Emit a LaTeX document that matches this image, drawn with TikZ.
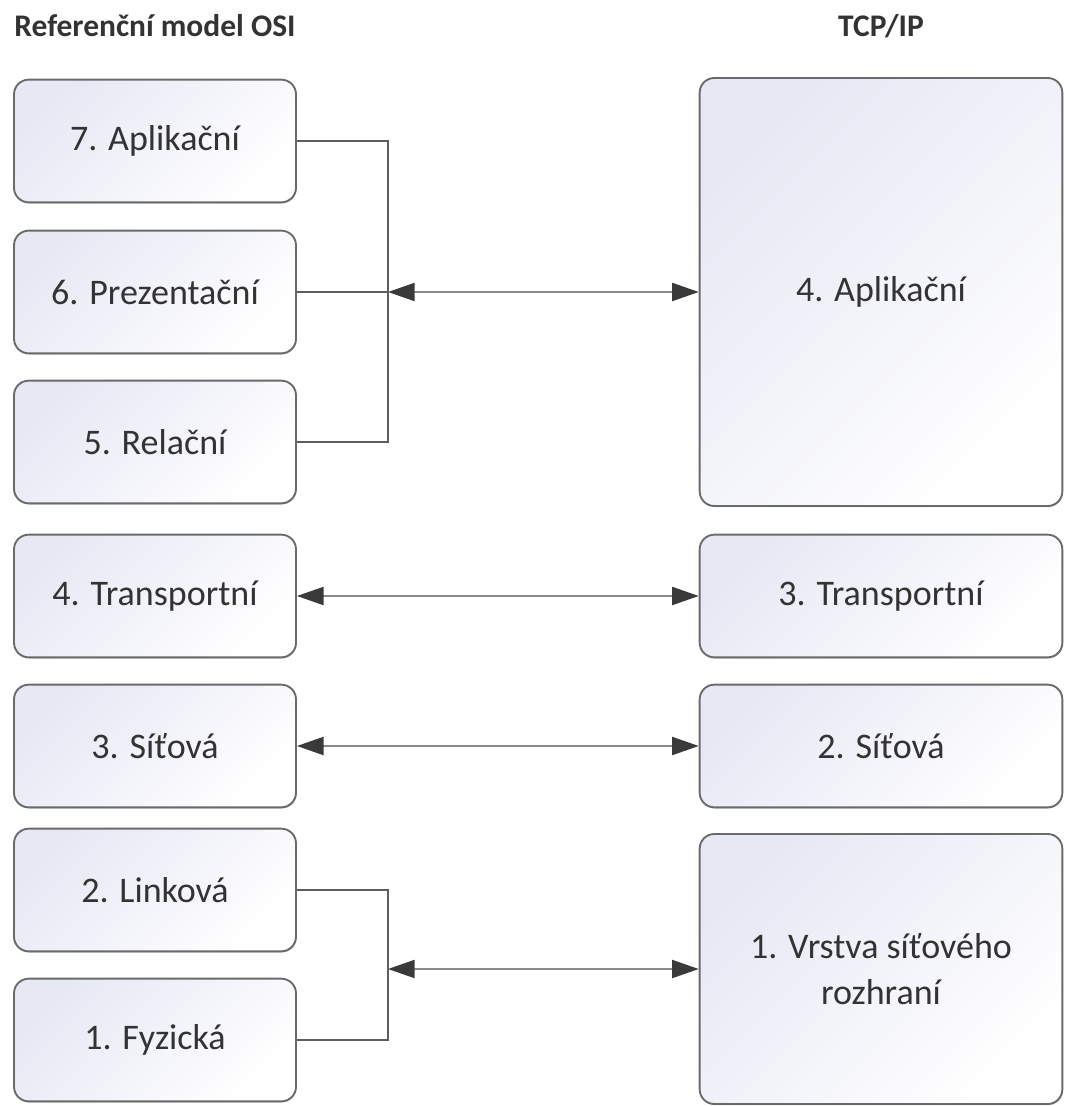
\documentclass[tikz,border=0pt]{standalone}
\usepackage{fontspec}
\setmainfont{Carlito}
\usepackage{tikz}
\usetikzlibrary{arrows.meta,shadows}

\definecolor{boxline}{HTML}{6A6A6A}
\definecolor{boxfill}{HTML}{E6E8F4}
\definecolor{txt}{HTML}{333333}
\definecolor{wire}{HTML}{5E5E5E}
\definecolor{arrowgray}{HTML}{8A8A8A}
\definecolor{tipgray}{HTML}{3A3A3A}

\begin{document}
\begin{tikzpicture}[x=0.75pt,y=-0.75pt,
    layer/.style={draw=boxline, line width=1.4pt, rounded corners=11pt,
        left color=boxfill, right color=white, shading angle=45,
        text=txt, font=\fontsize{27}{34}\selectfont, align=center,
        drop shadow={shadow xshift=0.4pt, shadow yshift=-0.9pt, opacity=0.35, fill=black!60}},
    osi/.style={layer, minimum width=211.5pt, minimum height=92pt},
    tcp/.style={layer, minimum width=272pt, minimum height=92pt},
    heading/.style={text=txt, font=\fontsize{23.6}{28}\selectfont\bfseries},
    bracket/.style={draw=wire, line width=1.4pt},
    biarrow/.style={draw=arrowgray, line width=1.6pt,
        {Triangle[length=20pt,width=13.5pt,color=tipgray]}-{Triangle[length=20pt,width=13.5pt,color=tipgray]}}]
        \useasboundingbox (0,0) rectangle (1064,1106);
        \node[heading] (hosi) at (155,26) {Referenční model OSI};
        \node[heading] (htcp) at (881,26) {TCP/IP};
        \node[osi] (l7) at (155,141) {7. Aplikační};
        \node[osi] (l6) at (155,292) {6. Prezentační};
        \node[osi] (l5) at (155,442) {5. Relační};
        \node[osi] (l4) at (155,596) {4. Transportní};
        \node[osi] (l3) at (155,746) {3. Síťová};
        \node[osi] (l2) at (155,890) {2. Linková};
        \node[osi] (l1) at (155,1040) {1. Fyzická};
        \node[tcp, minimum height=321pt] (t4) at (881,292) {4. Aplikační};
        \node[tcp] (t3) at (881,596) {3. Transportní};
        \node[tcp] (t2) at (881,746) {2. Síťová};
        \node[tcp, minimum height=202.5pt] (t1) at (881,969) {1. Vrstva síťového\\rozhraní};
        \coordinate (japp) at (388,292);
        \coordinate (jlink) at (388,969);
        \draw[bracket] (l7.east) -| (japp) |- (l5.east);
        \draw[bracket] (l6.east) -- (japp);
        \draw[bracket] (l2.east) -| (jlink) |- (l1.east);
        \draw[biarrow] (japp) -- (t4.west);
        \draw[biarrow] (l4.east) -- (t3.west);
        \draw[biarrow] (l3.east) -- (t2.west);
        \draw[biarrow] (jlink) -- (t1.west);
        \end{tikzpicture}
\end{document}
